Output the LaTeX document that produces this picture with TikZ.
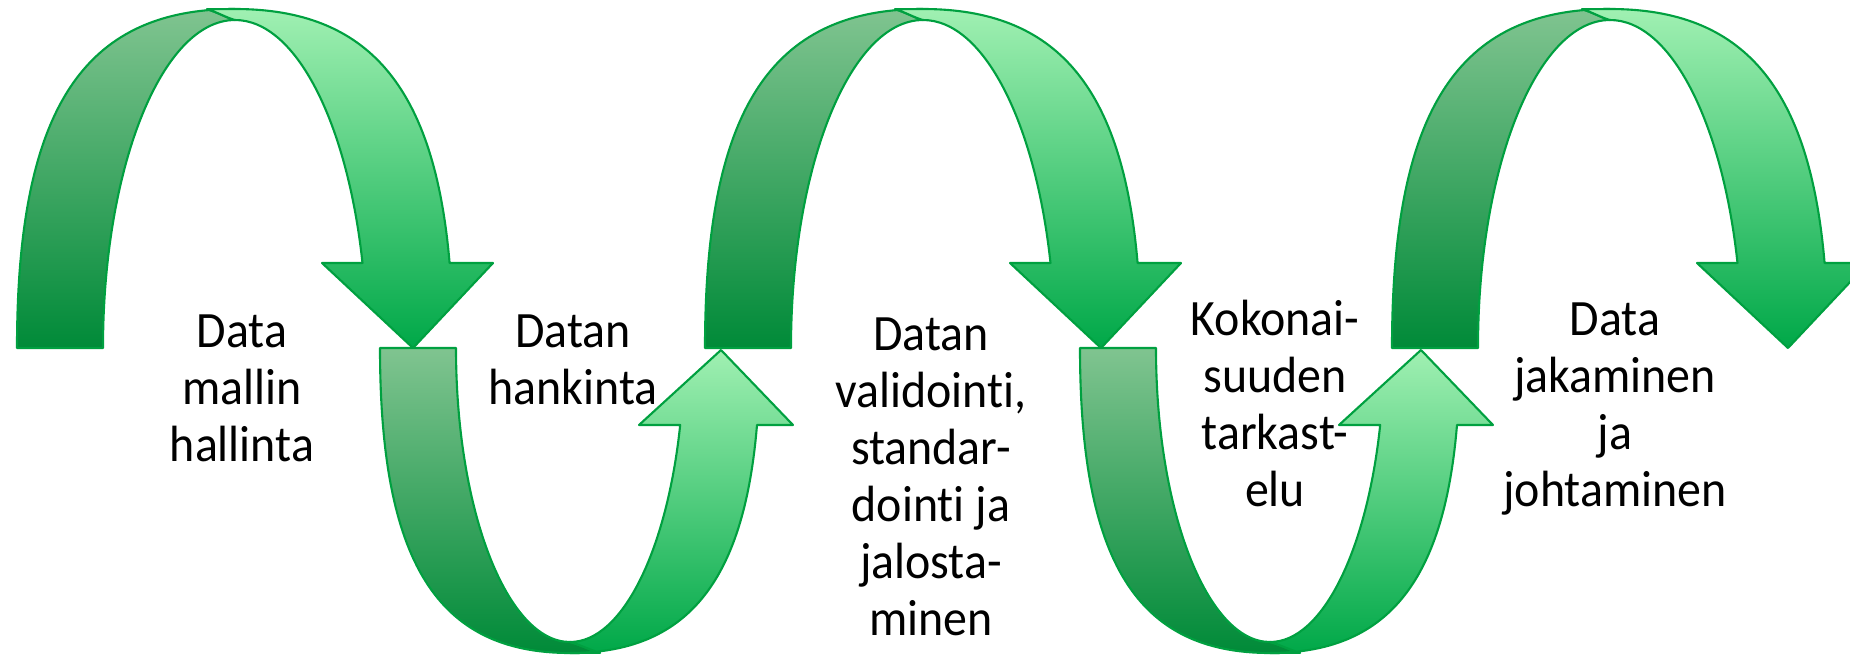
\documentclass[tikz,border=0pt]{standalone}
\usepackage{fontspec}
\setmainfont{Carlito}[FakeStretch=0.94, Ligatures=NoCommon]
\usepackage{tikz}
\usetikzlibrary{positioning}
\definecolor{rimgreen}{HTML}{00A040}
\definecolor{backtop}{HTML}{80C490}
\definecolor{backbot}{HTML}{008A38}
\definecolor{fronttop}{HTML}{A0F0B2}
\definecolor{frontbot}{HTML}{00A848}
\tikzstyle{backpart} = [draw=rimgreen, line width=0.6pt, line join=round, top color=backtop, bottom color=backbot]
\tikzstyle{frontpart} = [draw=rimgreen, line width=0.6pt, line join=round, top color=fronttop, bottom color=frontbot]
\tikzstyle{steptext} = [align=center, font=\fontsize{14.5}{16.2}\selectfont, inner sep=0pt, anchor=base]
% arch over the text, arrow pointing down
\newcommand{\overarch}[1]{%
  \begin{scope}[shift={(#1,0)}]
    \path[backpart] (-218,348) .. controls (-218,110.7) and (-152.6,9) .. (0,9)
      -- (-28,9.2) .. controls (-18,12) and (-8,18) .. (0,20)
      .. controls (-72.9,20) and (-132,167) .. (-132,348) -- cycle;
    \path[frontpart] (-28,9.2) -- (0,9) .. controls (132.8,9) and (199.5,86) .. (214.6,263)
      -- (258,263) -- (178,348) -- (87,263) -- (127.5,263)
      .. controls (112.5,123.2) and (61.1,20) .. (0,20)
      .. controls (-8,18) and (-18,12) .. cycle;
  \end{scope}}
% arch under the text, arrow pointing up
\newcommand{\underarch}[1]{%
  \begin{scope}[shift={(#1,0)}]
    \path[backpart] (-190,348) .. controls (-190,561.5) and (-133,653) .. (0,653)
      -- (30,652.8) .. controls (20,650) and (8,644) .. (0,642)
      .. controls (-62.9,642) and (-114,510.3) .. (-114,348) -- cycle;
    \path[frontpart] (0,653) .. controls (115.7,653) and (173.9,583.7) .. (187,425)
      -- (223,425) -- (151,350) -- (69,425) -- (110.2,425)
      .. controls (97.1,549.5) and (52.7,642) .. (0,642)
      .. controls (8,644) and (20,650) .. (30,652.8) -- cycle;
  \end{scope}}

\begin{document}
\begin{tikzpicture}[x=0.1mm, y=-0.1mm]
  \useasboundingbox (0,0) rectangle (1850,657);
  \overarch{235}
  \underarch{570}
  \overarch{923}
  \underarch{1270}
  \overarch{1610}
  % base anchor sits on the last line
  \node[steptext] (mallin) at (242,461) {Data\\mallin\\hallinta};
  \node[steptext] (hankinta) at (573,404) {Datan\\hankinta};
  \node[steptext] (validointi) at (931,635) {Datan\\validointi,\\standar-\\dointi ja\\jalosta-\\minen};
  \node[steptext] (kokonaisuus) at (1275,506) {Kokonai-\\suuden\\tarkast-\\elu};
  \node[steptext] (jakaminen) at (1615,506) {Data\\jakaminen\\ja\\johtaminen};
\end{tikzpicture}
\end{document}
